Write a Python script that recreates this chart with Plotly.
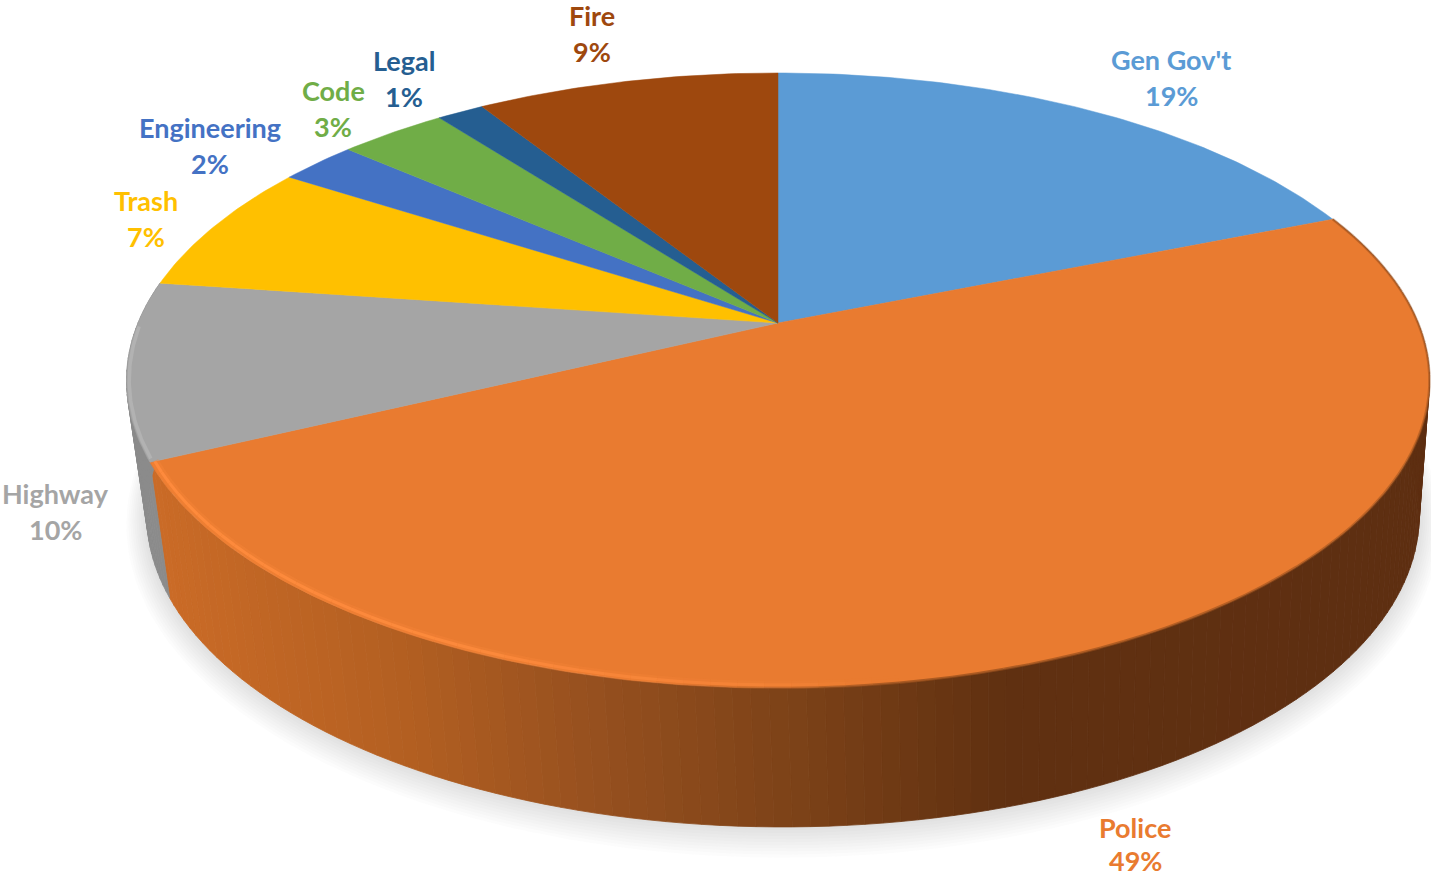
import numpy as np
import plotly.graph_objects as go

# ---------- data ----------
categories = ["Gen Gov't", "Police", "Highway", "Trash", "Engineering", "Code", "Legal", "Fire"]
values = [18.9, 49.0, 9.3, 6.9, 2.3, 3.2, 1.4, 9.0]
percent_labels = ["19%", "49%", "10%", "7%", "2%", "3%", "1%", "9%"]
colors = ["#5b9bd5", "#e97b30", "#a5a5a5", "#ffc000", "#4472c4", "#70ad47", "#255e91", "#9e480e"]

# ---------- layout constants (pixels) ----------
W, H = 1431, 878
TOP = dict(cx=778.0, cy=323.0, A=640.0, B=296.8, k=-0.187)
BOTTOM = dict(cx=783.0, cy=456.7, A=625.0, B=301.0, k=-0.187)
label_centres = [(1171, 59), (1135, 827), (55, 493), (146, 200), (210, 127), (333, 90), (404, 60), (592, 15)]
line_gaps = [36, 33, 36, 36, 36, 36, 36, 36]
FONT_SIZE = 27


def project(theta, g, r=1.0):
    """Angle (radians, clockwise from 12 o'clock) on a perspective-tilted disc."""
    u, v = r * np.sin(theta), -r * np.cos(theta)
    w = 1 + g["k"] * v
    return g["cx"] + g["A"] * u / w, g["cy"] + g["B"] * v / w


def poly(x, y, color, line=0.8):
    return go.Scatter(x=list(x), y=list(y), mode="lines", fill="toself", fillcolor=color,
                      line=dict(color=color, width=line), hoverinfo="skip", showlegend=False)


def mix(stops_x, stops_rgb, x):
    return "rgb(%d,%d,%d)" % tuple(np.interp(x, stops_x, [c[i] for c in stops_rgb]) for i in range(3))


edges = np.cumsum([0] + values) / sum(values) * 2 * np.pi
fig = go.Figure()

# soft shadow under the pie
full = np.linspace(0, 2 * np.pi, 240)
for i in range(10, 0, -1):
    g = dict(BOTTOM, A=BOTTOM["A"] + 2.0 * i, B=BOTTOM["B"] + 2.0 * i, cy=BOTTOM["cy"] + 0.6 * i)
    x, y = project(full, g)
    fig.add_trace(go.Scatter(x=x, y=y, mode="lines", fill="toself", fillcolor="rgba(90,90,90,0.02)",
                             line=dict(width=0), hoverinfo="skip", showlegend=False))

# side wall: Police
wall_x = [170, 400, 600, 800, 1000, 1430]
wall_rgb = [(202, 107, 39), (180, 96, 34), (150, 80, 31), (124, 66, 24), (97, 49, 17), (94, 47, 17)]
steps = np.linspace(edges[1], edges[2], 131)
for t0, t1 in zip(steps[:-1], steps[1:]):
    x0, y0 = project(t0, TOP)
    x1, y1 = project(t1, TOP)
    x2, y2 = project(t1, BOTTOM)
    x3, y3 = project(t0, BOTTOM)
    fig.add_trace(poly([x0, x1, x2, x3, x0], [y0, y1, y2, y3, y0],
                       mix(wall_x, wall_rgb, (x0 + x1 + x2 + x3) / 4)))

# side wall: Highway
steps = np.linspace(edges[2], edges[3], 31)
for t0, t1 in zip(steps[:-1], steps[1:]):
    x0, y0 = project(t0, TOP)
    x1, y1 = project(t1, TOP)
    x2, y2 = project(t1, BOTTOM)
    x3, y3 = project(t0, BOTTOM)
    fig.add_trace(poly([x0, x1, x2, x3, x0], [y0, y1, y2, y3, y0], "#8b8b8b"))

# top faces
for i, (name, col) in enumerate(zip(categories, colors)):
    t = np.linspace(edges[i], edges[i + 1], max(int(values[i] * 5), 8))
    x, y = project(t, TOP)
    fig.add_trace(poly([TOP["cx"], *x, TOP["cx"]], [TOP["cy"], *y, TOP["cy"]], col, line=0.5))

# bevels on the rim
bevel_x = [160, 450, 750, 900]
bevel_a = [0.9, 0.8, 0.4, 0.0]
rim_x = [650, 900, 1431]
rim_a = [0.0, 0.75, 0.5]
steps = np.linspace(edges[1], edges[2], 90)
for t0, t1 in zip(steps[:-1], steps[1:]):
    tt = np.array([t0, t1])
    x, y = project(tt, TOP, r=0.993)
    alpha = float(np.interp(x.mean(), bevel_x, bevel_a))
    if alpha > 0:
        fig.add_trace(go.Scatter(x=x, y=y, mode="lines", hoverinfo="skip", showlegend=False,
                                 line=dict(color="rgba(250,135,58,%.2f)" % (alpha * 0.4), width=8)))
        fig.add_trace(go.Scatter(x=x, y=y, mode="lines", hoverinfo="skip", showlegend=False,
                                 line=dict(color="rgba(255,140,62,%.2f)" % alpha, width=3)))
    xr, yr = project(tt, TOP)
    rim_alpha = float(np.interp(xr.mean(), rim_x, rim_a))
    if rim_alpha > 0:
        fig.add_trace(go.Scatter(x=xr, y=yr, mode="lines", hoverinfo="skip", showlegend=False,
                                 line=dict(color="rgba(150,78,28,%.2f)" % rim_alpha, width=2.5)))
x, y = project(np.linspace(edges[2] + 0.01, edges[3] - 0.15, 50), TOP, r=0.996)
fig.add_trace(go.Scatter(x=x, y=y, mode="lines", hoverinfo="skip", showlegend=False,
                         line=dict(color="#b2b2b2", width=3.5)))

# labels
annotations = []
for name, pct, col, (lx, ly), gap in zip(categories, percent_labels, colors, label_centres, line_gaps):
    for text, yy in ((name, ly), (pct, ly + gap)):
        annotations.append(dict(x=lx, y=yy, xref="x", yref="y", text="<b>%s</b>" % text, showarrow=False,
                                xanchor="center", yanchor="middle",
                                font=dict(family="Lato", size=FONT_SIZE, color=col)))

fig.update_layout(width=W, height=H, margin=dict(l=0, r=0, t=0, b=0), autosize=False,
                  paper_bgcolor="white", plot_bgcolor="white", showlegend=False,
                  xaxis=dict(range=[0, W], visible=False, fixedrange=True),
                  yaxis=dict(range=[H, 0], visible=False, fixedrange=True),
                  annotations=annotations)
fig.write_html("out.html", config={"displayModeBar": False},
               post_script="document.body.style.margin='0';document.body.style.overflow='hidden';")
